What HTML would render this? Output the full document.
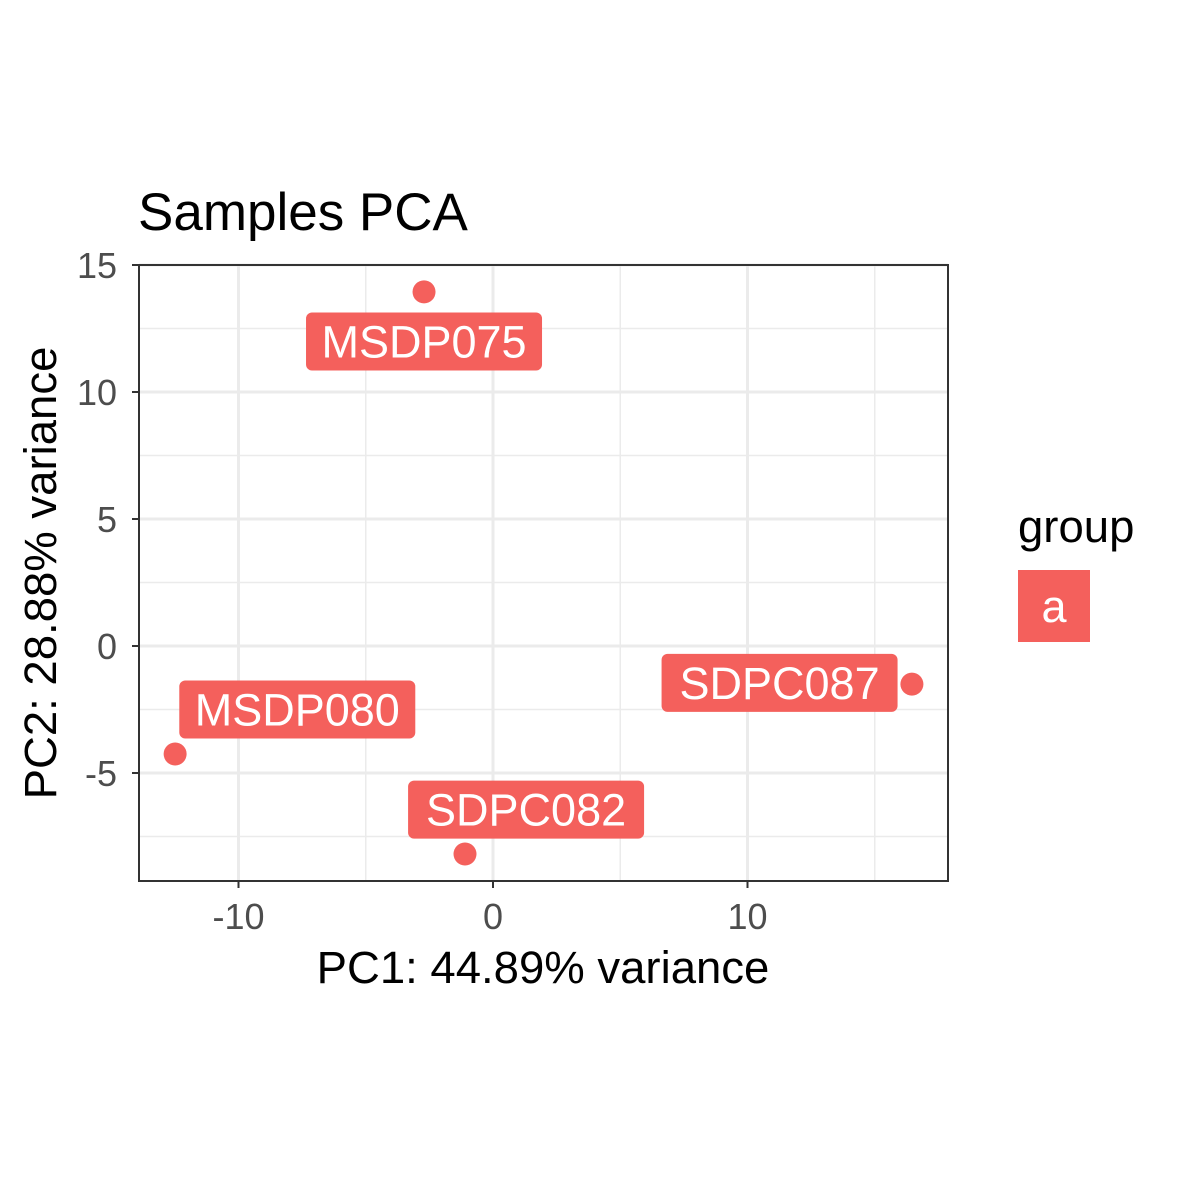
<!DOCTYPE html>
<html><head><meta charset="utf-8"><style>
html,body{margin:0;padding:0;background:#fff;}
svg{display:block;font-family:"Liberation Sans",Arial,sans-serif;}
</style></head><body>
<svg id="chart" width="1181" height="1181" viewBox="0 0 1181 1181" xmlns="http://www.w3.org/2000/svg">
<rect width="1181" height="1181" fill="#fff"/>
<text x="138" y="230" font-size="53" fill="#000">Samples PCA</text>
<g id="grid"></g>
<g id="ticks"></g>
<rect x="139" y="265" width="809" height="616" fill="none" stroke="#333" stroke-width="2"/>
<g id="marks"></g>
<text x="543" y="983" font-size="45.5" text-anchor="middle" fill="#000">PC1: 44.89% variance</text>
<text transform="translate(56,573) rotate(-90)" font-size="45.5" text-anchor="middle" fill="#000">PC2: 28.88% variance</text>
<text x="1018" y="542" font-size="45.5" fill="#000">group</text>
<rect x="1018" y="570" width="72" height="72" fill="#F4605C"/>
<text x="1054" y="622" font-size="45" text-anchor="middle" fill="#fff">a</text>
</svg>
<script>
const names = ["MSDP075","MSDP080","SDPC082","SDPC087"];
const pc1 = [-2.71, -12.49, -1.1, 16.46];
const pc2 = [13.94, -4.25, -8.19, -1.5];
const labelDx = [0, 4.8, 2.4, -5.2];
const labelDy = [-1.95, 1.75, 1.75, 0.05];
const xTicks = [-10, 0, 10];
const yTicks = [-5, 0, 5, 10, 15];
const xMinor = [-5, 5, 15];
const yMinor = [-7.5, -2.5, 2.5, 7.5, 12.5];

const L=139,R=948,T=265,B=881;
const sx = v => 493 + (v) * 25.45;
const sy = v => 646 - (v) * 25.4;
const NS="http://www.w3.org/2000/svg";
function mk(tag, attrs, parent){const e=document.createElementNS(NS,tag);for(const k in attrs)e.setAttribute(k,attrs[k]);parent.appendChild(e);return e;}
const grid=document.getElementById('grid'), ticks=document.getElementById('ticks'), marks=document.getElementById('marks');
xMinor.forEach(v=>{const x=sx(v);if(x<L||x>R)return;const l=mk('line',{x1:x,x2:x,y1:T,y2:B,stroke:'#ebebeb','stroke-width':1.5},grid);

});
yMinor.forEach(v=>{const y=sy(v);if(y<T||y>B)return;const l=mk('line',{x1:L,x2:R,y1:y,y2:y,stroke:'#ebebeb','stroke-width':1.5},grid);

});
xTicks.forEach(v=>{const x=sx(v);
const l=mk('line',{x1:x,x2:x,y1:T,y2:B,stroke:'#ebebeb','stroke-width':3},grid);


const t=mk('line',{x1:x,x2:x,y1:B,y2:B+7,stroke:'#333','stroke-width':2},ticks);


const tx=mk('text',{x:x,y:B+48,'font-size':36,'text-anchor':'middle',fill:'#4d4d4d'},ticks);tx.textContent=v;

});
yTicks.forEach(v=>{const y=sy(v);
const l=mk('line',{x1:L,x2:R,y1:y,y2:y,stroke:'#ebebeb','stroke-width':3},grid);


const t=mk('line',{x1:L-7,x2:L,y1:y,y2:y,stroke:'#333','stroke-width':2},ticks);


const tx=mk('text',{x:L-22,y:y+13,'font-size':36,'text-anchor':'end',fill:'#4d4d4d'},ticks);tx.textContent=v;

});
names.forEach((n,i)=>{
const px=sx(pc1[i]), py=sy(pc2[i]);
const c=mk('circle',{cx:px,cy:py,r:11.5,fill:'#F4605C'},marks);


const cx=sx(pc1[i]+labelDx[i]), cy=sy(pc2[i]+labelDy[i]);
const w=236,h=58;
const r=mk('rect',{x:cx-w/2,y:cy-h/2,width:w,height:h,rx:6,fill:'#F4605C'},marks);


const t=mk('text',{x:cx,y:cy+16,'font-size':45,'text-anchor':'middle',fill:'#fff'},marks);t.textContent=n;


});
</script>
</body></html>
